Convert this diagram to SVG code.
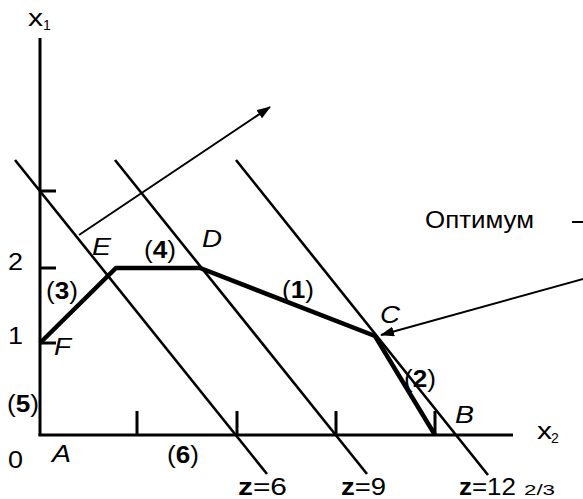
<svg xmlns="http://www.w3.org/2000/svg" width="583" height="499" viewBox="0 0 583 499">
<defs>
<style>
.ax{stroke:#000;stroke-width:3;fill:none}
.poly{stroke:#000;stroke-width:4.5;fill:none;stroke-linejoin:miter}
.zl{stroke:#000;stroke-width:2.6;fill:none}
.ar{stroke:#000;stroke-width:2;fill:none}
text{font-family:"Liberation Sans",Arial,sans-serif;font-size:23px;fill:#000}
.it{font-style:italic}
.b{font-weight:bold}
</style>
<marker id="ah" viewBox="0 0 14 10" refX="13" refY="5" markerWidth="14" markerHeight="10" markerUnits="userSpaceOnUse" orient="auto">
<path d="M0,0 L14,5 L0,10 Z" fill="#000"/>
</marker>
</defs>
<rect width="583" height="499" fill="#fff"/>
<g id="axes">
<line class="ax" x1="40" y1="38" x2="40" y2="436"/>
<line class="ax" x1="38.5" y1="435" x2="513" y2="435"/>
<line class="ax" x1="137" y1="411" x2="137" y2="435"/>
<line class="ax" x1="237" y1="411" x2="237" y2="435"/>
<line class="ax" x1="336" y1="411" x2="336" y2="435"/>
<line class="ax" x1="435" y1="411" x2="435" y2="435"/>
<line class="ax" x1="40" y1="191" x2="56" y2="191"/>
<line class="ax" x1="40" y1="268" x2="56" y2="268"/>
<line class="ax" x1="40" y1="343" x2="56" y2="343"/>
</g>
<g id="z-lines">
<line class="zl" x1="15" y1="160" x2="267" y2="474"/>
<line class="zl" x1="115" y1="160" x2="367" y2="474"/>
<line class="zl" x1="236" y1="160" x2="488" y2="475"/>
</g>
<g id="region">
<path class="poly" d="M40,343 L116,268 L200,268 L375,336 L435,435"/>
</g>
<g id="connectors">
<line class="ar" x1="79" y1="235" x2="270" y2="107" marker-end="url(#ah)"/>
<line class="ar" x1="590" y1="277" x2="381" y2="335" marker-end="url(#ah)"/>
<line class="ar" x1="572" y1="222" x2="583" y2="222"/>
</g>
<g id="labels">
<text x="28" y="26" textLength="15" lengthAdjust="spacingAndGlyphs">x</text>
<text x="43" y="30" style="font-size:14px">1</text>
<text x="8" y="270" textLength="15" lengthAdjust="spacingAndGlyphs">2</text>
<text x="8" y="344" textLength="15" lengthAdjust="spacingAndGlyphs">1</text>
<text x="8" y="468" textLength="15" lengthAdjust="spacingAndGlyphs">0</text>
<text x="7" y="412" textLength="32" lengthAdjust="spacingAndGlyphs">(<tspan class="b">5</tspan>)</text>
<text x="46" y="299" textLength="32" lengthAdjust="spacingAndGlyphs">(<tspan class="b">3</tspan>)</text>
<text x="144" y="258" textLength="32" lengthAdjust="spacingAndGlyphs">(<tspan class="b">4</tspan>)</text>
<text x="282" y="298" textLength="32" lengthAdjust="spacingAndGlyphs">(<tspan class="b">1</tspan>)</text>
<text x="404" y="387" textLength="32" lengthAdjust="spacingAndGlyphs">(<tspan class="b">2</tspan>)</text>
<text x="167" y="463" textLength="32" lengthAdjust="spacingAndGlyphs">(<tspan class="b">6</tspan>)</text>
<text class="it" x="92" y="255" textLength="19" lengthAdjust="spacingAndGlyphs">E</text>
<text class="it" x="202" y="247" textLength="20" lengthAdjust="spacingAndGlyphs">D</text>
<text class="it" x="380" y="323" textLength="20" lengthAdjust="spacingAndGlyphs">C</text>
<text class="it" x="455" y="423" textLength="19" lengthAdjust="spacingAndGlyphs">B</text>
<text class="it" x="52" y="462" textLength="19" lengthAdjust="spacingAndGlyphs">A</text>
<text class="it" x="54" y="355" textLength="17" lengthAdjust="spacingAndGlyphs">F</text>
<text x="425" y="228" textLength="109" lengthAdjust="spacingAndGlyphs">Оптимум</text>
<text x="537" y="439" textLength="15" lengthAdjust="spacingAndGlyphs">x</text>
<text x="551" y="443" style="font-size:14px">2</text>
<text x="238" y="495" textLength="49" lengthAdjust="spacingAndGlyphs"><tspan class="b">z</tspan>=6</text>
<text x="341" y="495" textLength="45" lengthAdjust="spacingAndGlyphs"><tspan class="b">z</tspan>=9</text>
<text x="459" y="495" textLength="57" lengthAdjust="spacingAndGlyphs"><tspan class="b">z</tspan>=12</text>
<text x="524" y="495" style="font-size:15px" textLength="31" lengthAdjust="spacingAndGlyphs">2/3</text>
</g>
</svg>
